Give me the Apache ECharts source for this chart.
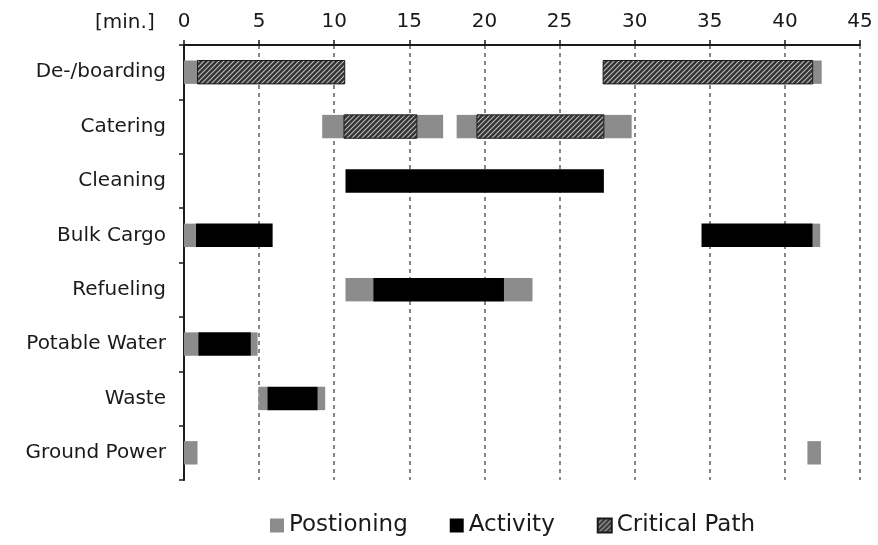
<!DOCTYPE html>
<html>
<head>
<meta charset="utf-8">
<script src="https://cdn.jsdelivr.net/npm/echarts@6/dist/echarts.min.js"></script>
<style>
  html, body { margin: 0; padding: 0; background: #fff; }
  #chart { width: 878px; height: 545px; }
</style>
</head>
<body>
<div id="chart"></div>
<script>
// ---- Data ----
const categories = ['De-/boarding', 'Catering', 'Cleaning', 'Bulk Cargo', 'Refueling', 'Potable Water', 'Waste', 'Ground Power'];
const xTicks = [0, 5, 10, 15, 20, 25, 30, 35, 40, 45];
const seriesNames = ['Postioning', 'Activity', 'Critical Path'];
// [category index, start (min), end (min)]
const positioning = [
  [0, 0, 0.9], [0, 41.85, 42.45],
  [1, 9.2, 10.65], [1, 15.5, 17.25], [1, 18.15, 19.5], [1, 27.95, 29.8],
  [3, 0, 0.8], [3, 41.85, 42.35],
  [4, 10.75, 12.6], [4, 21.3, 23.2],
  [5, 0, 0.95], [5, 4.45, 4.9],
  [6, 4.95, 5.55], [6, 8.9, 9.4],
  [7, 0, 0.9], [7, 41.5, 42.4]
];
const activity = [
  [2, 10.75, 27.95],
  [3, 0.8, 5.9], [3, 34.45, 41.85],
  [4, 12.6, 21.3],
  [5, 0.95, 4.45],
  [6, 5.55, 8.9]
];
const criticalPath = [
  [0, 0.9, 10.7], [0, 27.9, 41.85],
  [1, 10.65, 15.5], [1, 19.5, 27.95]
];

// ---- Hatch pattern ----
function makeHatch() {
  const c = document.createElement('canvas');
  const s = 5;
  c.width = s; c.height = s;
  const ctx = c.getContext('2d');
  ctx.fillStyle = '#333333';
  ctx.fillRect(0, 0, s, s);
  ctx.strokeStyle = '#bdbdbd';
  ctx.lineWidth = 1.1;
  ctx.beginPath();
  ctx.moveTo(0, s); ctx.lineTo(s, 0);
  ctx.moveTo(-1, 1); ctx.lineTo(1, -1);
  ctx.moveTo(s - 1, s + 1); ctx.lineTo(s + 1, s - 1);
  ctx.stroke();
  return { image: c, repeat: 'repeat' };
}
const hatch = makeHatch();

const FONT = 'DejaVu Sans';
const chart = echarts.init(document.getElementById('chart'), null, { renderer: 'canvas' });

function makeRender(fill, stroke) {
  return function (params, api) {
    const cat = api.value(0);
    const s = api.coord([api.value(1), cat]);
    const e = api.coord([api.value(2), cat]);
    const h = api.size([0, 1])[1] * 0.43;
    return {
      type: 'rect',
      shape: { x: s[0], y: s[1] - h / 2, width: e[0] - s[0], height: h },
      style: { fill: fill, stroke: stroke, lineWidth: stroke ? 1 : 0 }
    };
  };
}

function mkSeries(name, data, fill, stroke) {
  return {
    type: 'custom',
    name: name,
    renderItem: makeRender(fill, stroke),
    itemStyle: { color: fill, borderColor: stroke || fill, borderWidth: stroke ? 1 : 0 },
    encode: { x: [1, 2], y: 0 },
    data: data,
    z: 3
  };
}

chart.setOption({
  animation: false,
  backgroundColor: '#ffffff',
  grid: { left: 184, right: 18, top: 45, bottom: 65, containLabel: false },
  xAxis: {
    type: 'value',
    position: 'top',
    min: xTicks[0],
    max: xTicks[xTicks.length - 1],
    interval: xTicks[1] - xTicks[0],
    axisLine: { show: true, lineStyle: { color: '#1a1a1a', width: 2 } },
    axisTick: { show: true, length: 5, lineStyle: { color: '#1a1a1a', width: 1.5 } },
    axisLabel: { color: '#1a1a1a', fontSize: 20, fontFamily: FONT, margin: 13 },
    splitLine: { show: true, lineStyle: { color: '#7a7a7a', width: 1.8, type: [4, 4] } }
  },
  yAxis: {
    type: 'category',
    data: categories,
    inverse: true,
    axisLine: { show: true, lineStyle: { color: '#1a1a1a', width: 2 } },
    axisTick: { show: true, length: 5, lineStyle: { color: '#1a1a1a', width: 1.5 } },
    axisLabel: { color: '#1a1a1a', fontSize: 20, fontFamily: FONT, margin: 18 },
    splitLine: { show: false }
  },
  legend: {
    data: seriesNames,
    left: 265,
    top: 509,
    icon: 'rect',
    itemWidth: 14,
    itemHeight: 14,
    itemGap: 42,
    textStyle: { color: '#1a1a1a', fontSize: 23, fontFamily: FONT }
  },
  graphic: [{
    type: 'text',
    left: 95,
    top: 13,
    style: { text: '[min.]', fill: '#1a1a1a', font: '20px "DejaVu Sans"' }
  }],
  series: [
    mkSeries(seriesNames[0], positioning, '#8c8c8c', null),
    mkSeries(seriesNames[1], activity, '#000000', null),
    mkSeries(seriesNames[2], criticalPath, hatch, '#1a1a1a')
  ]
});
</script>
</body>
</html>
